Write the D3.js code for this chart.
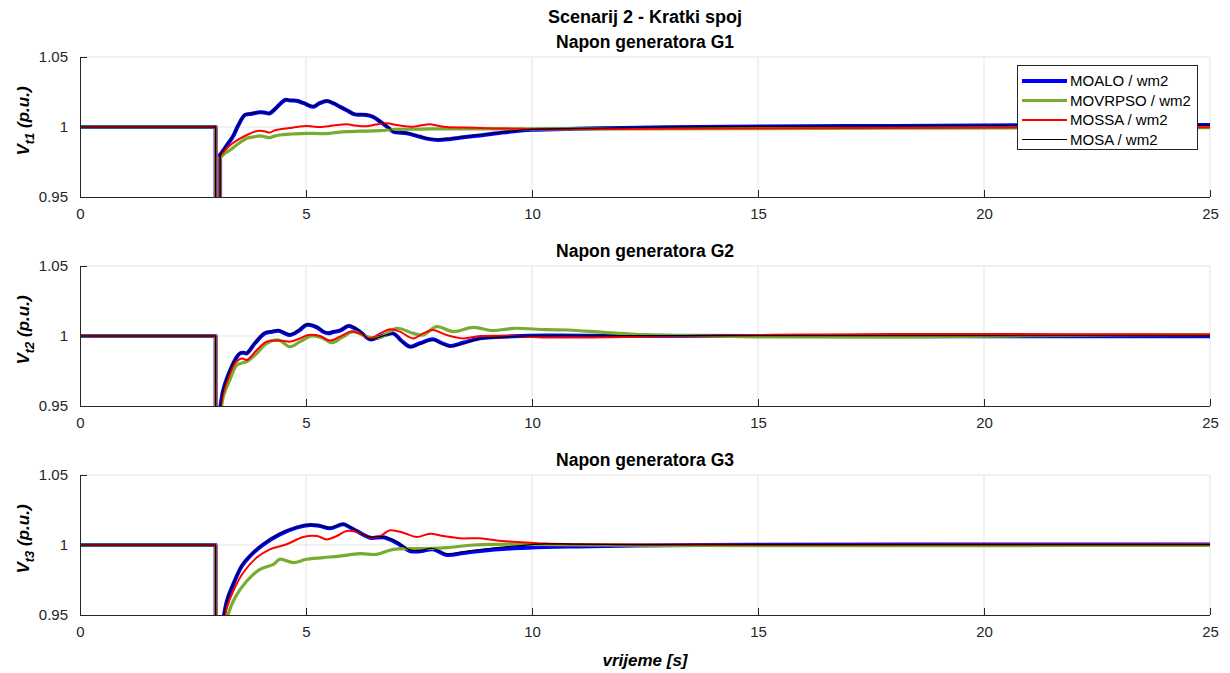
<!DOCTYPE html>
<html><head><meta charset="utf-8">
<script src="https://cdn.jsdelivr.net/npm/d3@7"></script>
<style>
body{margin:0;background:#fff;}
svg{display:block;font-family:"Liberation Sans",Arial,Helvetica,sans-serif;}
</style></head>
<body><svg id="chart" width="1230" height="673"></svg>
<script>
// ---------------- data ----------------
const mainTitle = "Scenarij 2 - Kratki spoj";
const panelTitles = ["Napon generatora G1","Napon generatora G2","Napon generatora G3"];
const panelSubs = ["t1","t2","t3"];
const xTicks = [0,5,10,15,20,25];
const yTicks = [0.95,1,1.05];
const seriesNames = ["MOALO / wm2","MOVRPSO / wm2","MOSSA / wm2","MOSA / wm2"];
const seriesColors = ["#0000ff","#77ac30","#ff0000","#000000"];
const seriesWidths = [4,3.2,2,1.2];
const xLabel = "vrijeme [s]";
const prefault = [[0,1],[3,1],[3,0.5],[3.1,0.5]];

// Generator G1
const g1_moalo = [[3.1,0.980],[3.25,0.987],[3.38,0.993],[3.5,1.001],[3.65,1.0086],[3.8,1.0095],[3.98,1.0105],[4.1,1.0102],[4.2,1.0098],[4.35,1.014],[4.54,1.0193],[4.65,1.019],[4.79,1.0188],[4.95,1.017],[5.16,1.0145],[5.3,1.017],[5.46,1.0186],[5.6,1.017],[5.75,1.0145],[5.9,1.012],[6.08,1.009],[6.2,1.0088],[6.34,1.0086],[6.5,1.007],[6.64,1.0038],[6.8,1.0],[6.93,0.9967],[7.23,0.9955],[7.52,0.993],[7.7,0.9915],[7.92,0.9907],[8.2,0.9915],[8.48,0.9926],[8.85,0.994],[9.22,0.9955],[9.6,0.997],[10,0.998],[11,0.9988],[12,0.9993],[13,0.9998],[15,1.0003],[18,1.0008],[21,1.0012],[25,1.0014]];
const g1_movrpso = [[3.1,0.978],[3.2,0.981],[3.32,0.9836],[3.5,0.988],[3.69,0.992],[3.85,0.993],[3.98,0.9936],[4.1,0.993],[4.2,0.9924],[4.3,0.9935],[4.42,0.9943],[4.7,0.995],[5.01,0.9955],[5.3,0.9953],[5.53,0.9955],[5.7,0.9962],[5.9,0.9967],[6.2,0.997],[6.64,0.9974],[7.0,0.9983],[7.4,0.9984],[7.74,0.9986],[8.48,0.9986],[9.2,0.9986],[10,0.9986],[12,0.9987],[15,0.9989],[18,0.9991],[21,0.9993],[25,0.9995]];
const g1_mossa = [[3.1,0.979],[3.2,0.983],[3.32,0.987],[3.5,0.991],[3.69,0.9943],[3.85,0.9965],[3.98,0.9974],[4.1,0.9968],[4.2,0.996],[4.3,0.9975],[4.42,0.9983],[4.7,0.9995],[5.01,1.0007],[5.15,1.0003],[5.31,1.0],[5.6,1.001],[5.9,1.002],[6.1,1.001],[6.34,1.0005],[6.55,1.0018],[6.78,1.0026],[7.05,1.0012],[7.37,1.0002],[7.55,1.0012],[7.74,1.0019],[7.9,1.001],[8.11,1.0],[8.5,0.9996],[8.85,0.9993],[9.2,0.999],[9.59,0.9988],[10,0.9985],[11,0.9985],[12,0.9986],[14,0.9989],[17,0.9993],[21,0.9996],[25,0.9998]];
const g1_mosa = [[3.1,0.980],[3.25,0.9875],[3.38,0.9935],[3.5,1.0012],[3.65,1.0088],[3.8,1.0097],[3.98,1.0107],[4.1,1.0104],[4.2,1.01],[4.35,1.0142],[4.54,1.0195],[4.65,1.0192],[4.79,1.019],[4.95,1.0172],[5.16,1.0147],[5.3,1.0172],[5.46,1.0188],[5.6,1.0172],[5.75,1.0147],[5.9,1.0122],[6.08,1.0092],[6.2,1.009],[6.34,1.0088],[6.5,1.0072],[6.64,1.004],[6.8,1.0003],[6.93,0.997],[7.23,0.9958],[7.52,0.9933],[7.7,0.9918],[7.92,0.991],[8.2,0.9918],[8.48,0.9929],[8.85,0.9943],[9.22,0.9958],[9.6,0.9973],[10,0.9983],[11,0.999],[12,0.9995],[13,0.9999],[15,1.0004],[18,1.0008],[21,1.0011],[25,1.0013]];

// Generator G2
const g2_moalo = [[3.1,0.948],[3.17,0.9614],[3.28,0.9721],[3.43,0.9829],[3.54,0.9876],[3.62,0.988],[3.69,0.9876],[3.87,0.9948],[4.09,1.0019],[4.25,1.003],[4.39,1.0038],[4.52,1.002],[4.65,1.0007],[4.85,1.004],[5.01,1.0079],[5.24,1.0062],[5.38,1.003],[5.49,1.0019],[5.62,1.003],[5.75,1.0038],[5.94,1.0071],[6.05,1.006],[6.19,1.0031],[6.42,0.9976],[6.64,0.9995],[6.93,1.0019],[7.1,0.997],[7.3,0.9924],[7.52,0.9948],[7.81,0.9976],[8.0,0.995],[8.19,0.9929],[8.48,0.9952],[8.85,0.9983],[9.2,0.9992],[9.59,0.9998],[10.3,1.0003],[12,1.0001],[15,1.0],[20,0.9998],[25,0.9998]];
const g2_movrpso = [[3.1,0.94],[3.17,0.9567],[3.32,0.969],[3.47,0.9793],[3.69,0.9817],[3.91,0.9876],[4.13,0.9948],[4.39,0.9971],[4.65,0.9924],[4.87,0.996],[5.13,1.0],[5.38,0.9983],[5.57,0.9952],[5.8,0.999],[6.05,1.0031],[6.34,0.9995],[6.64,0.999],[7.0,1.0055],[7.37,1.0019],[7.59,1.0007],[7.89,1.0067],[8.26,1.0031],[8.7,1.0062],[9.14,1.0038],[9.59,1.0055],[10.3,1.0045],[10.8,1.0043],[11.58,1.0026],[12.3,1.0012],[13.4,1.0002],[15,0.9994],[17,0.9993],[19,0.9996],[22,1.0005],[25,1.001]];
const g2_mossa = [[3.1,0.945],[3.17,0.959],[3.28,0.9698],[3.43,0.9805],[3.58,0.984],[3.69,0.9829],[3.91,0.99],[4.13,0.996],[4.35,0.9967],[4.5,0.9965],[4.65,0.996],[4.85,0.998],[5.05,1.0007],[5.31,1.0],[5.53,0.9967],[5.75,0.9995],[5.98,1.0031],[6.19,1.0019],[6.42,0.9983],[6.65,1.002],[6.86,1.0048],[7.08,1.0031],[7.37,0.9983],[7.6,1.002],[7.81,1.0043],[8.11,1.0007],[8.48,0.9983],[8.85,1.0],[9.59,1.0],[10.3,0.999],[12,0.9993],[14,1.0003],[16,1.001],[18,1.0014],[20,1.0014],[22,1.0013],[25,1.001]];
const g2_mosa = [[3.1,0.948],[3.17,0.9616],[3.28,0.9723],[3.43,0.9832],[3.54,0.9879],[3.62,0.9884],[3.69,0.988],[3.87,0.9953],[4.09,1.0025],[4.25,1.0036],[4.39,1.0044],[4.52,1.0026],[4.65,1.0013],[4.85,1.0046],[5.01,1.0085],[5.24,1.0068],[5.38,1.0036],[5.49,1.0025],[5.62,1.0035],[5.75,1.0043],[5.94,1.0076],[6.05,1.0064],[6.19,1.0034],[6.42,0.9976],[6.64,0.9994],[6.93,1.0016],[7.1,0.9966],[7.3,0.9919],[7.52,0.9943],[7.81,0.9971],[8.0,0.9945],[8.19,0.9924],[8.48,0.9948],[8.85,0.998],[9.2,0.999],[9.59,0.9997],[10.3,1.0003],[12,1.0002],[15,1.0002],[20,1.0002],[25,1.0001]];

// Generator G3
const g3_moalo = [[3.1,0.93],[3.25,0.96],[3.39,0.9719],[3.58,0.985],[3.76,0.9921],[4.06,1.0005],[4.42,1.0076],[4.79,1.0124],[5.09,1.0143],[5.31,1.0136],[5.53,1.0119],[5.82,1.0148],[5.95,1.013],[6.12,1.01],[6.42,1.0052],[6.71,1.0055],[7.0,1.0017],[7.3,0.9957],[7.52,0.9955],[7.81,0.9969],[8.11,0.9929],[8.48,0.9943],[8.85,0.9957],[9.59,0.9976],[10.3,0.9986],[11,0.999],[13,0.9998],[15,1.0002],[20,1.0003],[25,1.0003]];
const g3_movrpso = [[3.1,0.92],[3.28,0.9507],[3.43,0.9624],[3.69,0.9743],[3.98,0.9826],[4.28,0.9862],[4.42,0.9898],[4.72,0.9874],[5.01,0.9898],[5.38,0.991],[5.75,0.9921],[6.19,0.9938],[6.56,0.9933],[6.93,0.9969],[7.37,0.9974],[7.81,0.9976],[8.11,0.9981],[8.7,1.0],[9.22,1.0005],[9.96,1.0005],[11,1.0],[13,0.9997],[16,0.9995],[20,0.9996],[25,0.9997]];
const g3_mossa = [[3.1,0.93],[3.25,0.9552],[3.39,0.9671],[3.61,0.9802],[3.91,0.991],[4.2,0.9969],[4.57,1.0005],[4.94,1.0057],[5.24,1.0064],[5.46,1.004],[5.68,1.0064],[5.9,1.01],[6.19,1.0088],[6.42,1.0052],[6.64,1.0064],[6.86,1.0105],[7.15,1.0088],[7.45,1.0057],[7.74,1.0081],[8.04,1.0064],[8.4,1.0048],[8.85,1.0048],[9.22,1.0033],[9.59,1.0024],[10.3,1.001],[11,1.0005],[13,1.0001],[16,1.0001],[20,1.0004],[25,1.0004]];
const g3_mosa = [[3.1,0.93],[3.25,0.9603],[3.39,0.9722],[3.58,0.9853],[3.76,0.9924],[4.06,1.0008],[4.42,1.0079],[4.79,1.0127],[5.09,1.0146],[5.31,1.0139],[5.53,1.0122],[5.82,1.0151],[5.95,1.0133],[6.12,1.0102],[6.42,1.0056],[6.71,1.006],[7.0,1.0024],[7.3,0.9965],[7.52,0.9962],[7.81,0.9975],[8.11,0.9936],[8.48,0.9952],[8.85,0.9968],[9.59,0.9992],[10.3,1.0008],[11,1.0006],[13,1.0002],[15,1.0002],[20,1.0002],[25,1.0002]];

const panels = [
  [g1_moalo, g1_movrpso, g1_mossa, g1_mosa],
  [g2_moalo, g2_movrpso, g2_mossa, g2_mosa],
  [g3_moalo, g3_movrpso, g3_mossa, g3_mosa]
];

// ---------------- layout ----------------
const svg = d3.select("#chart");
const left = 80, right = 1210;
const panelTops = [57, 266, 475];
const panelH = 140;
const axisColor = "#262626";
const gridColor = "#e3e3e3";
const tickFont = 15;

svg.append("text").attr("x",(left+right)/2).attr("y",23)
  .attr("text-anchor","middle").attr("font-size",18).attr("font-weight","bold")
  .attr("fill","#000").text(mainTitle);

const x = d3.scaleLinear().domain([0,25]).range([left,right]);

panels.forEach((series,pi)=>{
  const top = panelTops[pi];
  const y = d3.scaleLinear().domain([0.95,1.05]).range([top+panelH, top]);
  const g = svg.append("g");

  // grid
  g.selectAll(".vg").data(xTicks.filter(d=>d>0)).enter().append("line")
    .attr("x1",d=>x(d)).attr("x2",d=>x(d)).attr("y1",top).attr("y2",top+panelH)
    .attr("stroke",gridColor).attr("stroke-width",1);
  g.selectAll(".hg").data(yTicks.filter(d=>d>0.95)).enter().append("line")
    .attr("x1",left).attr("x2",right).attr("y1",d=>y(d)).attr("y2",d=>y(d))
    .attr("stroke",gridColor).attr("stroke-width",1);

  // clip
  const cid = "clip"+pi;
  svg.append("clipPath").attr("id",cid).append("rect")
    .attr("x",left).attr("y",top).attr("width",right-left).attr("height",panelH);

  const lineLin = d3.line().x(d=>x(d[0])).y(d=>y(d[1])).curve(d3.curveLinear);
  const lineSmooth = d3.line().x(d=>x(d[0])).y(d=>y(d[1])).curve(d3.curveCatmullRom.alpha(0.5));
  const lg = g.append("g").attr("clip-path",`url(#${cid})`);
  series.forEach((s,si)=>{
    const sg = lg.append("g").attr("fill","none")
      .attr("stroke",seriesColors[si]).attr("stroke-width",seriesWidths[si])
      .attr("stroke-linejoin","round").attr("stroke-linecap","round");
    sg.append("path").datum(prefault.concat([s[0]])).attr("d",lineLin);
    sg.append("path").datum(s).attr("d",lineSmooth);
  });

  // axes
  const xa = d3.axisBottom(x).tickValues(xTicks).tickSize(-7).tickPadding(11).tickFormat(d3.format("d"));
  const ya = d3.axisLeft(y).tickValues(yTicks).tickSize(-7).tickPadding(12).tickFormat(d=>d===1?"1":d3.format(".2f")(d));
  const gx = g.append("g").attr("transform",`translate(0,${top+panelH})`).call(xa);
  const gy = g.append("g").attr("transform",`translate(${left},0)`).call(ya);
  [gx,gy].forEach(a=>{
    a.selectAll(".tick line").attr("stroke",axisColor);
    a.selectAll(".tick text").attr("fill","#262626").attr("font-size",tickFont)
      .attr("font-family","'Liberation Sans',Arial,sans-serif");
  });
  gx.select(".domain").remove(); gy.select(".domain").remove();
  g.append("line").attr("x1",left).attr("x2",right).attr("y1",top+panelH+0.5).attr("y2",top+panelH+0.5)
    .attr("stroke",axisColor).attr("stroke-width",1);
  g.append("line").attr("x1",left+0.5).attr("x2",left+0.5).attr("y1",top).attr("y2",top+panelH)
    .attr("stroke",axisColor).attr("stroke-width",1);

  // title
  svg.append("text").attr("x",(left+right)/2).attr("y",top-9)
    .attr("text-anchor","middle").attr("font-size",17.5).attr("font-weight","bold")
    .attr("fill","#000").text(panelTitles[pi]);

  // y label
  const yl = svg.append("text")
    .attr("transform",`translate(29,${top+panelH/2-6}) rotate(-90)`)
    .attr("text-anchor","middle").attr("font-size",17).attr("font-weight","bold")
    .attr("font-style","italic").attr("fill","#000");
  yl.append("tspan").text("V");
  yl.append("tspan").attr("font-size",13).attr("dy",5).text(panelSubs[pi]);
  yl.append("tspan").attr("dy",-5).text(" (p.u.)");
});

// x label
svg.append("text").attr("x",(left+right)/2).attr("y",666)
  .attr("text-anchor","middle").attr("font-size",17).attr("font-weight","bold")
  .attr("font-style","italic").attr("fill","#000").text(xLabel);

// legend
const lgX = 1017, lgY = 65, lgW = 180, lgH = 84;
const leg = svg.append("g");
leg.append("rect").attr("x",lgX+0.5).attr("y",lgY+0.5).attr("width",lgW).attr("height",lgH)
  .attr("fill","#fff").attr("stroke","#262626").attr("stroke-width",1);
seriesNames.forEach((n,i)=>{
  const ry = lgY + 16 + i*19.5;
  leg.append("line").attr("x1",lgX+5).attr("x2",lgX+50).attr("y1",ry).attr("y2",ry)
    .attr("stroke",seriesColors[i]).attr("stroke-width",seriesWidths[i]);
  leg.append("text").attr("x",lgX+53).attr("y",ry).attr("dy","0.35em")
    .attr("font-size",15).attr("fill","#000").text(n);
});
</script>
</body></html>
